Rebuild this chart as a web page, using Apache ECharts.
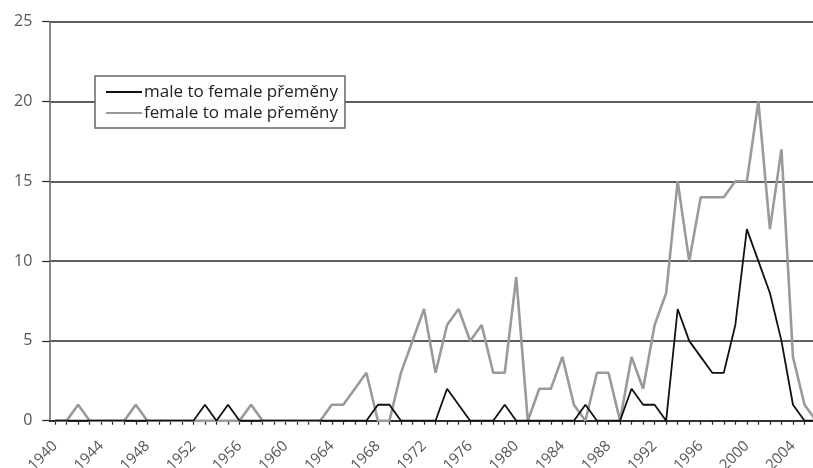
<!DOCTYPE html>
<html>
<head>
<meta charset="utf-8">
<script src="https://cdn.jsdelivr.net/npm/echarts@6/dist/echarts.min.js"></script>
<style>
html,body{margin:0;padding:0;background:#fff;}
#c{width:813px;height:468px;}
</style>
</head>
<body>
<div id="c"></div>
<script>
const years = [];
for (let y = 1940; y <= 2006; y++) years.push(String(y));

const seriesNames = ["male to female přeměny", "female to male přeměny"];

// male to female (black), 1940–2006
const maleToFemale = [
  0,0,0,0,0,0,0,0,0,0,   // 1940-1949
  0,0,0,1,0,1,0,0,0,0,   // 1950-1959
  0,0,0,0,0,0,0,0,1,1,   // 1960-1969
  0,0,0,0,2,1,0,0,0,1,   // 1970-1979
  0,0,0,0,0,0,1,0,0,0,   // 1980-1989
  2,1,1,0,7,5,4,3,3,6,   // 1990-1999
  12,10,8,5,1,0,0        // 2000-2006
];

// female to male (gray), 1940–2006
const femaleToMale = [
  0,0,1,0,0,0,0,1,0,0,   // 1940-1949
  0,0,0,0,0,0,0,1,0,0,   // 1950-1959
  0,0,0,0,1,1,2,3,0,0,   // 1960-1969
  3,5,7,3,6,7,5,6,3,3,   // 1970-1979
  9,0,2,2,4,1,0,3,3,0,   // 1980-1989
  4,2,6,8,15,10,14,14,14,15, // 1990-1999
  15,20,12,17,4,1,0      // 2000-2006
];

const yTicks = [0, 5, 10, 15, 20, 25];

const chart = echarts.init(document.getElementById('c'), null, {renderer: 'canvas'});
const FONT = '"Open Sans", "Noto Sans", sans-serif';
chart.setOption({
  animation: false,
  backgroundColor: '#fff',
  textStyle: {fontFamily: FONT},
  grid: {left: 49.3, width: 772.5, top: 21.7, height: 399, containLabel: false, outerBoundsMode: 'none'},
  legend: {
    orient: 'vertical',
    left: 95,
    top: 76,
    data: seriesNames,
    icon: 'rect',
    itemWidth: 36,
    itemHeight: 2,
    itemGap: 3,
    padding: [7, 7, 6, 11],
    backgroundColor: '#fff',
    borderColor: '#666',
    borderWidth: 1.5,
    textStyle: {fontFamily: FONT, fontSize: 17, color: '#222', lineHeight: 18, padding: [0, 0, 0, -3]}
  },
  xAxis: {
    type: 'category',
    data: years,
    boundaryGap: true,
    axisLine: {lineStyle: {color: '#222', width: 1.5}},
    axisTick: {show: true, alignWithLabel: true, interval: 0, length: 4, lineStyle: {color: '#222', width: 1.2}},
    axisLabel: {
      interval: 3,
      rotate: 45,
      margin: 23,
      fontSize: 15,
      color: '#555',
      fontFamily: FONT
    },
    splitLine: {show: false}
  },
  yAxis: {
    type: 'value',
    min: 0,
    max: 25,
    interval: 5,
    axisLine: {show: true, lineStyle: {color: '#666', width: 1.5}},
    axisTick: {show: true, length: 7, lineStyle: {color: '#222', width: 1.2}},
    axisLabel: {
      margin: 17,
      fontSize: 16,
      color: '#555',
      fontFamily: FONT,
      formatter: function (v) { return yTicks.indexOf(v) >= 0 ? String(v) : ''; }
    },
    splitLine: {show: true, lineStyle: {color: '#2a2a2a', width: 1.5}}
  },
  series: [
    {
      name: seriesNames[0],
      type: 'line',
      data: maleToFemale,
      symbol: 'none',
      color: '#111',
      lineStyle: {color: '#111', width: 1.8},
      z: 3
    },
    {
      name: seriesNames[1],
      type: 'line',
      data: femaleToMale,
      symbol: 'none',
      color: '#9a9a9a',
      lineStyle: {color: '#9a9a9a', width: 2.6},
      z: 2
    }
  ]
});
</script>
</body>
</html>
